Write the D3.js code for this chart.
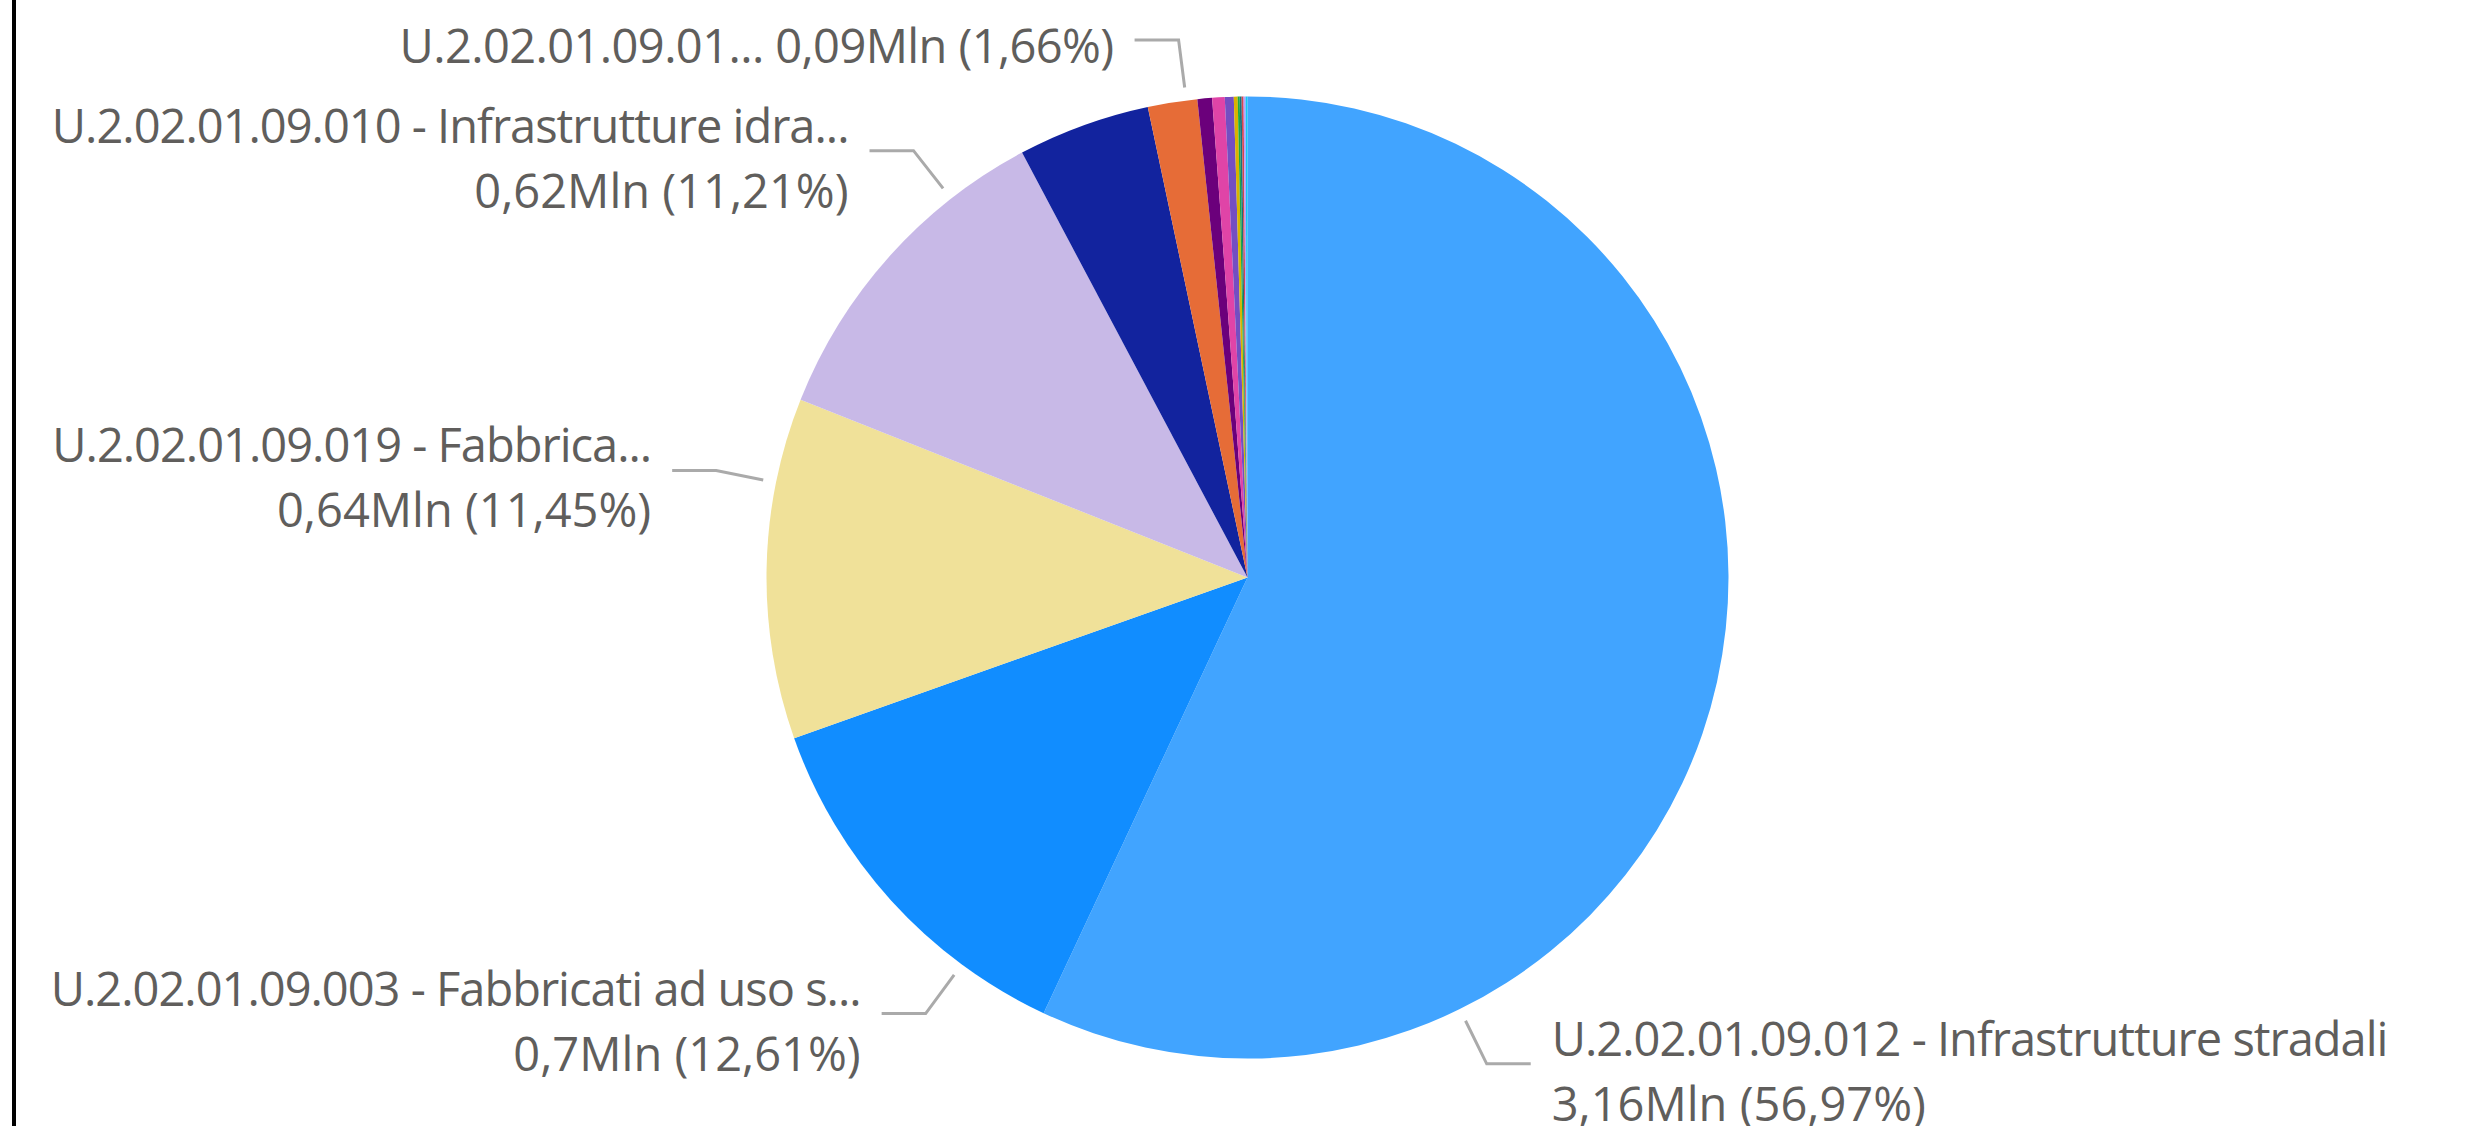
<!DOCTYPE html>
<html>
<head>
<meta charset="utf-8">
<script src="https://cdn.jsdelivr.net/npm/d3@7"></script>
<style>
  html, body { margin: 0; padding: 0; background: #fff; }
  #chart { position: absolute; left: 0; top: 0; }
  .lbl { font-family: "Segoe UI", "Open Sans", sans-serif; fill: #605E5C; font-size: 47px; }
  .lbl.name { letter-spacing: -1px; }
  .lbl.one { letter-spacing: -0.6px; }
</style>
</head>
<body>
<div id="chart"></div>
<script>
// categories (label text as shown in the visual, some truncated)
var categories = [
  "U.2.02.01.09.012 - Infrastrutture stradali",
  "U.2.02.01.09.003 - Fabbricati ad uso s...",
  "U.2.02.01.09.019 - Fabbrica...",
  "U.2.02.01.09.010 - Infrastrutture idra...",
  "U.2.02.01.09.999 - Altri beni immobili",
  "U.2.02.01.09.01...",
  "U.2.02.01.09.016",
  "U.2.02.01.09.002",
  "U.2.02.01.09.014",
  "U.2.02.01.09.015",
  "U.2.02.01.09.001",
  "U.2.02.01.09.008",
  "U.2.02.01.09.013",
  "U.2.02.01.09.017",
  "U.2.02.01.09.018"
];
// values in Mln
var values = [3.160, 0.6995, 0.6351, 0.6218, 0.2463, 0.0921, 0.0272, 0.0233, 0.0166, 0.0072,
  0.0036, 0.0036, 0.0036, 0.0036, 0.0036];
var colors = ["#41A4FF", "#118DFF", "#F0E199", "#C8B9E7", "#12239E", "#E66C37", "#6B007B", "#E044A7",
  "#744EC2", "#D9B300", "#1AAB40", "#197278", "#D64550", "#B5A1FF", "#15C6F4"];
// which slices get a data label, and where along the slice the leader starts (0..1)
var labelAt = [0.75, 0.25, 0.75, 0.75, null, 0.78, null, null, null, null, null, null, null, null, null];
var singleLine = [false, false, false, false, false, true];

(function() {
  var W = 2468, H = 1126;
  var cx = 1247.5, cy = 577.5, r = 481;

  var svg = d3.select('#chart').append('svg')
    .attr('width', W).attr('height', H);

  // left frame edge
  svg.append('rect').attr('x', 12).attr('y', 0).attr('width', 4).attr('height', H).attr('fill', '#000');

  var total = d3.sum(values);
  var fmtMln = d3.format('.2~f'), fmtPct = d3.format('.2f');
  var it = function(s) { return s.replace('.', ','); };

  var data = values.map(function(v, i) {
    return { name: categories[i], value: v, color: colors[i], at: labelAt[i], single: !!singleLine[i] };
  });

  var pie = d3.pie().sort(null).value(function(d) { return d.value; });
  var arc = d3.arc().innerRadius(0).outerRadius(r);
  var arcs = pie(data);

  var g = svg.append('g').attr('transform', 'translate(' + cx + ',' + cy + ')');

  g.selectAll('path').data(arcs).enter().append('path')
    .attr('d', arc)
    .attr('fill', function(d) { return d.data.color; });

  var labelled = arcs.filter(function(d) { return d.data.at != null; });

  labelled.forEach(function(d) {
    var a = d.startAngle + (d.endAngle - d.startAngle) * d.data.at;
    var p0 = d3.pointRadial(a, r + 13);
    var p1 = d3.pointRadial(a, r + 61);
    var side = p1[0] < 0 ? -1 : 1;
    var p2 = [p1[0] + side * 44, p1[1]];

    g.append('polyline')
      .attr('points', [p0, p1, p2].map(function(p) { return p.join(','); }).join(' '))
      .attr('fill', 'none').attr('stroke', '#AAAAAA').attr('stroke-width', 3);

    var tx = p2[0] + side * 21;
    var anchor = side < 0 ? 'end' : 'start';
    var valTxt = it(fmtMln(d.data.value)) + 'Mln (' + it(fmtPct(d.data.value / total * 100)) + '%)';

    if (d.data.single) {
      g.append('text').attr('class', 'lbl one')
        .attr('x', tx).attr('y', p1[1] + 5)
        .attr('text-anchor', anchor).attr('dominant-baseline', 'central')
        .text(d.data.name + ' ' + valTxt);
    } else {
      g.append('text').attr('class', 'lbl name')
        .attr('x', tx).attr('y', p1[1] - 26)
        .attr('text-anchor', anchor).attr('dominant-baseline', 'central')
        .text(d.data.name);
      g.append('text').attr('class', 'lbl')
        .attr('x', tx).attr('y', p1[1] + 39)
        .attr('text-anchor', anchor).attr('dominant-baseline', 'central')
        .text(valTxt);
    }
  });
})();
</script>
</body>
</html>
